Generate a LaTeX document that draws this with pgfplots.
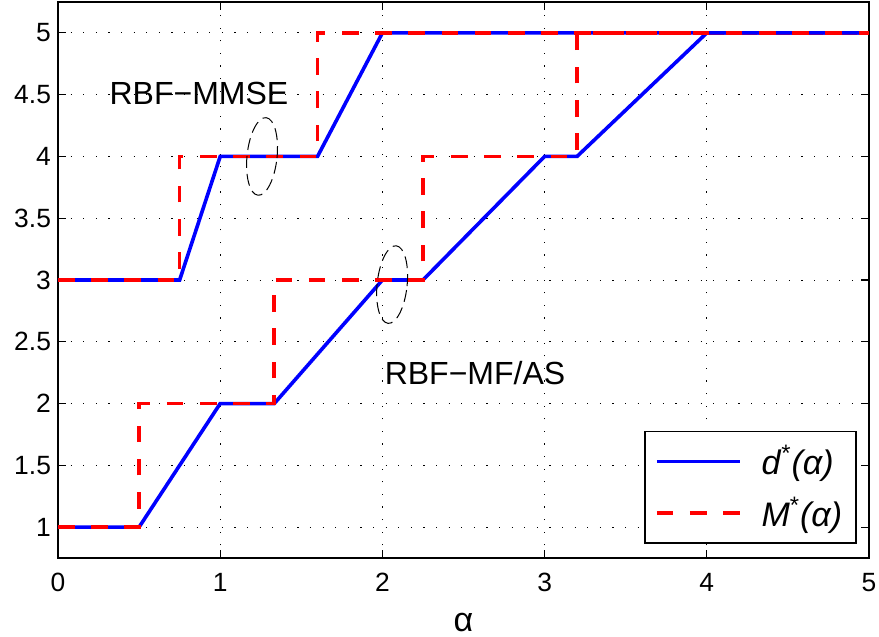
\documentclass[border=0pt]{standalone}
\usepackage{fontspec}
\setmainfont{Liberation Sans}
\usepackage{pgfplots}
\pgfplotsset{compat=1.18}
\begin{document}
\begin{tikzpicture}
\useasboundingbox (-29pt,-39.5pt) rectangle (410.5pt,279pt);
\begin{axis}[
  scale only axis,
  width=405.5pt, height=278pt,
  xmin=0, xmax=5, ymin=0.75, ymax=5.25,
  xtick={0,1,2,3,4,5},
  ytick={1,1.5,2,2.5,3,3.5,4,4.5,5},
  /pgf/number format/assume math mode=true,
  tick label style={font=\fontsize{13.2}{15}\selectfont},
  xticklabel style={yshift=-4pt},
  tick align=inside,
  major tick length=4pt,
  axis line style={line width=0.8pt},
  every tick/.style={black, line width=0.6pt},
  grid=major,
  major grid style={black, line width=0.5pt, dash pattern=on 0.6pt off 5.7pt},
  xlabel={α},
  xlabel style={font=\fontsize{17}{20}\selectfont, yshift=-4pt},
  legend cell align=left,
  legend style={at={(1,0)}, anchor=south east, xshift=-6pt, yshift=7pt,
    draw=black, line width=0.8pt, font=\fontsize{17}{20}\selectfont,
    row sep=6pt, inner xsep=5pt, inner ysep=5pt,
    /tikz/every odd column/.append style={column sep=8pt}},
  legend image code/.code={\draw[#1] (0pt,0pt) -- (41.5pt,0pt);},
]
\addplot[blue, line width=1.8pt] coordinates {(0,3) (0.75,3) (1,4) (1.6,4) (2,5) (5,5)};
\addlegendentry{\textit{d}\textsuperscript{*}\textit{(α)}}
\addplot[red, line width=1.8pt, dash pattern=on 8.3pt off 8.3pt] coordinates {(0,3) (0.75,3) (0.75,4) (1.6,4) (1.6,5) (5,5)};
\addlegendentry{\textit{M}\textsuperscript{*}\textit{(α)}}
\addplot[blue, line width=1.8pt, forget plot] coordinates {(0,1) (0.5,1) (1,2) (1.3333,2) (2,3) (2.25,3) (3,4) (3.2,4) (4,5) (5,5)};
\addplot[red, line width=1.8pt, dash pattern=on 8.3pt off 8.3pt, forget plot] coordinates {(0,1) (0.5,1) (0.5,2) (1.3333,2) (1.3333,3) (2.25,3) (2.25,4) (3.2,4) (3.2,5) (5,5)};
\node[font=\fontsize{16}{19}\selectfont] at (axis cs:0.869,4.507) {RBF−MMSE};
\node[font=\fontsize{16}{19}\selectfont] at (axis cs:2.571,2.247) {RBF−MF/AS};
\draw[black, line width=0.5pt, dash pattern=on 6pt off 3pt, rotate around={-6:(axis cs:1.258,4)}] (axis cs:1.258,4) ellipse [x radius=7.5pt, y radius=19.5pt];
\draw[black, line width=0.5pt, dash pattern=on 6pt off 3pt, rotate around={-6:(axis cs:2.06,2.963)}] (axis cs:2.06,2.963) ellipse [x radius=7.5pt, y radius=19.5pt];
\end{axis}
\end{tikzpicture}
\end{document}
